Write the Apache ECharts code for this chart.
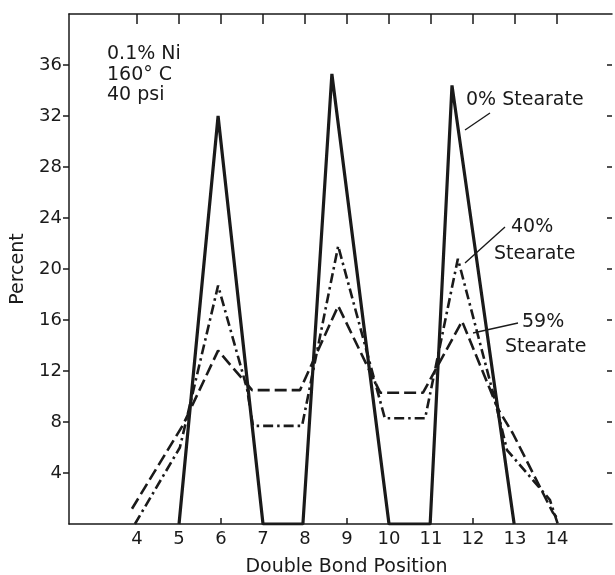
<!DOCTYPE html>
<html>
<head>
<meta charset="utf-8">
<script src="https://cdn.jsdelivr.net/npm/echarts@6/dist/echarts.min.js"></script>
<style>
  html, body { margin: 0; padding: 0; background: #fff; }
  #chart { width: 615px; height: 575px; }
</style>
</head>
<body>
<div id="chart"></div>
<script>
// values: [double bond position, percent]
var stearate0 = [[5.0, 0], [5.93, 32.0], [7.0, 0], [7.95, 0], [8.64, 35.3], [10.0, 0], [10.98, 0], [11.5, 34.4], [12.98, 0]];
var stearate40 = [[3.95, 0], [5.02, 6.0], [5.93, 18.7], [6.62, 10.6], [6.76, 7.7], [7.93, 7.7], [8.79, 21.8], [9.9, 8.3], [10.86, 8.3], [11.64, 20.8], [12.5, 10.0], [12.81, 5.8], [13.83, 1.9], [14.02, 0]];
var stearate59 = [[3.88, 1.2], [5.1, 7.8], [5.93, 13.6], [6.74, 10.5], [7.88, 10.5], [8.79, 17.1], [9.79, 10.3], [10.81, 10.3], [11.74, 15.9], [12.6, 9.0], [12.95, 7.1], [13.9, 0.9], [14.05, 0.3]];
var xTickLabels = [4, 5, 6, 7, 8, 9, 10, 11, 12, 13, 14];
var xInnerTicks = [6, 9, 12];
var yTickLabels = [4, 8, 12, 16, 20, 24, 28, 32, 36];
var conditions = ['0.1% Ni', '160° C', '40 psi'];

var ink = '#1a1a1a';
var font = 'DejaVu Sans';

function lineSeries(name, data, width, dash) {
    return {
        name: name,
        type: 'line',
        data: data,
        symbol: 'none',
        animation: false,
        lineStyle: { color: ink, width: width, type: dash }
    };
}

function label(text, x, y, size) {
    return {
        type: 'text', x: x, y: y,
        style: { text: text, font: (size || 19) + 'px ' + font, fill: ink, align: 'left', verticalAlign: 'middle' }
    };
}

function leader(x1, y1, x2, y2) {
    return { type: 'line', shape: { x1: x1, y1: y1, x2: x2, y2: y2 }, style: { stroke: ink, lineWidth: 1.4 } };
}

var chart = echarts.init(document.getElementById('chart'), null, { renderer: 'canvas' });

var option = {
    backgroundColor: '#fff',
    animation: false,
    textStyle: { fontFamily: font },
    grid: { left: 69, right: 3, top: 14, bottom: 51, containLabel: false, outerBoundsMode: 'none' },
    xAxis: [
        {
            type: 'value', min: 2.38, max: 15.31, position: 'bottom',
            name: 'Double Bond Position', nameLocation: 'middle', nameGap: 34,
            nameTextStyle: { color: ink, fontSize: 19, fontFamily: font, padding: [0, 0, 0, 12] },
            axisLine: { show: true, lineStyle: { color: ink, width: 1.5 } },
            axisTick: { show: true, inside: true, length: 6, customValues: xInnerTicks, lineStyle: { color: ink, width: 1.5 } },
            axisLabel: { show: true, customValues: xTickLabels, color: ink, fontSize: 18, fontFamily: font, margin: 6 },
            splitLine: { show: false }
        },
        {
            type: 'value', min: 2.38, max: 15.31, position: 'top',
            axisLine: { show: true, onZero: false, lineStyle: { color: ink, width: 1.5 } },
            axisTick: { show: true, inside: true, length: 10, customValues: xTickLabels, lineStyle: { color: ink, width: 1.5 } },
            axisLabel: { show: false },
            splitLine: { show: false }
        }
    ],
    yAxis: [
        {
            type: 'value', min: 0, max: 40, position: 'left',
            name: 'Percent', nameLocation: 'middle', nameGap: 41, nameRotate: 90,
            nameTextStyle: { color: ink, fontSize: 19, fontFamily: font },
            axisLine: { show: true, onZero: false, lineStyle: { color: ink, width: 1.5 } },
            axisTick: { show: true, inside: false, length: 6, customValues: yTickLabels, lineStyle: { color: ink, width: 1.5 } },
            axisLabel: { show: true, customValues: yTickLabels, color: ink, fontSize: 18, fontFamily: font, margin: 7 },
            splitLine: { show: false }
        },
        {
            type: 'value', min: 0, max: 40, position: 'right',
            axisLine: { show: false },
            axisTick: { show: true, inside: true, length: 5, customValues: yTickLabels, lineStyle: { color: ink, width: 1.5 } },
            axisLabel: { show: false },
            splitLine: { show: false }
        }
    ],
    series: [
        lineSeries('59% Stearate', stearate59, 2.6, [12, 5]),
        lineSeries('40% Stearate', stearate40, 2.6, [10, 4, 2.5, 4]),
        lineSeries('0% Stearate', stearate0, 3.2, 'solid')
    ],
    graphic: [
        label(conditions[0], 107, 54),
        label(conditions[1], 107, 75),
        label(conditions[2], 107, 95),
        label('0% Stearate', 466, 100),
        leader(465, 130, 490, 113),
        label('40%', 511, 227),
        label('Stearate', 494, 254),
        leader(465, 263, 505, 227),
        label('59%', 522, 322),
        label('Stearate', 505, 347),
        leader(473, 333, 518, 323)
    ]
};

if (option && option.series) {
    chart.setOption(option);
}
</script>
</body>
</html>
